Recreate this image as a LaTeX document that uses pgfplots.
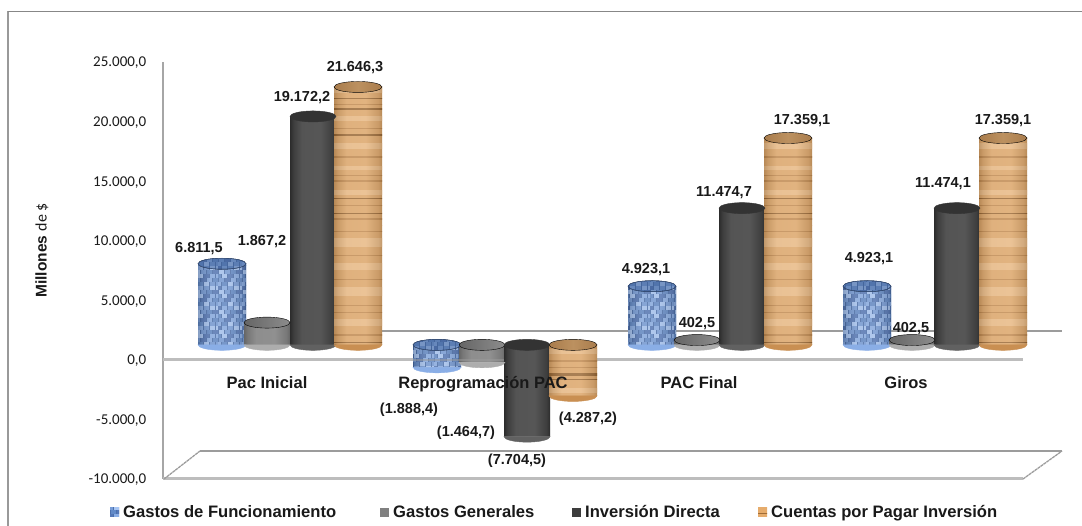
\documentclass[border=0pt]{standalone}
\usepackage{fontspec}
\usepackage{pgfplots}
\pgfplotsset{compat=1.18}
\usepackage{pgfplotstable}
\usetikzlibrary{patterns}
\setmainfont{Liberation Sans}
\newfontfamily\carl{Carlito}

\definecolor{wbase}{HTML}{E6AC6C}
\definecolor{wdark}{HTML}{A06C36}
\definecolor{wmid}{HTML}{C98F52}
\definecolor{wlight}{HTML}{F2C088}
\definecolor{wcap}{HTML}{A97C4C}
\definecolor{wcapb}{HTML}{BC9160}
\definecolor{bA}{HTML}{4C70AC}
\definecolor{bB}{HTML}{628AC8}
\definecolor{bC}{HTML}{8AAEE6}
\definecolor{bD}{HTML}{5578B8}
\definecolor{bE}{HTML}{A8C6F4}
\definecolor{bF}{HTML}{769CD8}
\definecolor{lineA}{HTML}{BDBDBD}
\definecolor{lineB}{HTML}{9C9C9C}

% Wood grain: horizontal bands of irregular height
\pgfdeclarepatterninherentlycolored{wood}{\pgfpointorigin}{\pgfqpoint{64.5pt}{300.5pt}}{\pgfqpoint{64pt}{300pt}}{%
  \pgfsetfillcolor{wbase}\pgfpathrectangle{\pgfpointorigin}{\pgfqpoint{64.5pt}{300.5pt}}\pgfusepath{fill}%
  \foreach \y/\h/\c in {6/2/wmid,12/1/wdark,20/1/wmid,27/1/wdark,31/5/wlight,44/2/wmid,50/1/wmid,56/4/wlight,
    68/2/wmid,77/6/wlight,90/2/wdark,97/1/wmid,105/5/wlight,116/2/wdark,121/1/wmid,127/1/wdark,133/5/wlight,
    146/1/wdark,150/3/wdark,158/1/wmid,164/2/wmid,172/5/wlight,183/1/wdark,190/2/wmid,200/7/wlight,
    213/1/wmid,220/1/wmid,230/9/wlight,246/1/wmid,256/7/wlight,270/1/wmid,279/9/wlight,294/1/wmid}{%
    \pgfsetfillcolor{\c}\pgfpathrectangle{\pgfqpoint{0pt}{\y pt}}{\pgfqpoint{64.5pt}{\h pt}}\pgfusepath{fill}%
  }%
}

% Woven blue surface: offset rows of small bricks
\pgfdeclarepatterninherentlycolored{mosaic}{\pgfpointorigin}{\pgfqpoint{24.5pt}{20.5pt}}{\pgfqpoint{24pt}{20pt}}{%
  \pgfsetfillcolor{bA}\pgfpathrectangle{\pgfpointorigin}{\pgfqpoint{24.5pt}{20.5pt}}\pgfusepath{fill}%
  \foreach \r/\off/\a/\b/\cc/\d in {0/0/bC/bB/bE/bF,1/3/bF/bD/bC/bB,2/0/bB/bE/bD/bC,3/3/bE/bF/bB/bD,4/0/bD/bC/bF/bE}{%
    \foreach \x/\c in {0/\a,6/\b,12/\cc,18/\d}{%
      \pgfmathsetlengthmacro\xx{\x+\off}%
      \pgfmathsetlengthmacro\yy{\r*4+0.4}%
      \pgfsetfillcolor{\c}\pgfpathrectangle{\pgfqpoint{\xx}{\yy}}{\pgfqpoint{5.4pt}{3.4pt}}\pgfusepath{fill}%
    }%
    \pgfmathsetlengthmacro\yy{\r*4+0.4}%
    \pgfsetfillcolor{\d}\pgfpathrectangle{\pgfqpoint{-3pt}{\yy}}{\pgfqpoint{5.4pt}{3.4pt}}\pgfusepath{fill}%
  }%
}

% Side lighting laid over each cylinder
\pgfdeclarehorizontalshading{cylover}{100bp}{color(0bp)=(black); color(25bp)=(black); color(29bp)=(black!65);
  color(38bp)=(white!78!black); color(58bp)=(white!82!black); color(71bp)=(black!65); color(75bp)=(black); color(100bp)=(black)}
\tikzset{cyl light/.style={shading=cylover,fill opacity=0.2}}

% Lower rim and upper cap of a cylinder
\newcommand{\rimpath}[1]{(-#1pt,0pt) arc[start angle=180,end angle=360,x radius=#1pt,y radius=5.5pt] -- cycle}
\pgfdeclareplotmark{endwood}{\fill[wmid] \rimpath{24};}
\pgfdeclareplotmark{endblue}{\fill[bC] \rimpath{24};}
\pgfdeclareplotmark{endgray}{\fill[white!68!black] \rimpath{23};}
\pgfdeclareplotmark{enddark}{\fill[white!38!black] \rimpath{23};}
\pgfdeclareplotmark{capwood}{\shade[left color=wcap,right color=wcap,middle color=wcapb] (0pt,0pt) ellipse (24pt and 5.5pt);}
\pgfdeclareplotmark{capblue}{\fill[pattern=mosaic] (0pt,0pt) ellipse (24pt and 5.5pt);\fill[bA!80!black,fill opacity=0.45] (0pt,0pt) ellipse (24pt and 5.5pt);}
\pgfdeclareplotmark{capgray}{\shade[left color=white!40!black,right color=white!55!black] (0pt,0pt) ellipse (23pt and 5.5pt);}
\pgfdeclareplotmark{capdark}{\fill[white!20!black] (0pt,0pt) ellipse (23pt and 5.5pt);}

\pgfplotstableread{
x v
222 6811.5
437 -1888.4
652 4923.1
867 4923.1
}\funcionamiento
\pgfplotstableread{
x v
267 1867.2
482 -1464.7
697 402.5
912 402.5
}\generales
\pgfplotstableread{
x v
313 19172.2
527 -7704.5
742 11474.7
957 11474.1
}\inversion
\pgfplotstableread{
x v
358 21646.3
573 -4287.2
788 17359.1
1003 17359.1
}\cuentas

% One cylinder's lighting at a time, so the gradient spans a single bar
\newcommand{\lightbar}[4]{%
  \addplot[ybar,bar shift=0pt,bar width=#2,draw=none,cyl light,yshift=15pt,
    skip coords between index={0}{#3},skip coords between index={#4}{4}] table[x=x,y=v] {#1};
}
\newcommand{\cylinders}[5]{% table, rim mark, cap mark, bar width, body style
  \addplot[only marks,mark=#2,yshift=15pt] table[x=x,y expr={min(\thisrow{v},0)}] {#1};
  \addplot[ybar,bar shift=0pt,bar width=#4,draw=none,#5,yshift=15pt] table[x=x,y=v] {#1};
  \lightbar{#1}{#4}{0}{1}\lightbar{#1}{#4}{1}{2}\lightbar{#1}{#4}{2}{3}\lightbar{#1}{#4}{3}{4}
  \addplot[only marks,mark=#3,yshift=15pt] table[x=x,y expr={max(\thisrow{v},0)}] {#1};
}

\begin{document}
\begin{tikzpicture}
\useasboundingbox (0pt,0pt) rectangle (1082pt,526pt);

\begin{axis}[
  at={(163pt,47pt)},anchor=south west,
  scale only axis,width=860pt,height=417pt,
  xmin=163,xmax=1023,ymin=-10000,ymax=25000,
  clip=false,
  axis x line=none,
  axis y line=left,
  y axis line style={-,draw=white!65!black,line width=1.5pt},
  ytick={-10000,-5000,0,5000,10000,15000,20000,25000},
  ytick style={draw=none},
  scaled y ticks=false,
  yticklabel style={font=\carl\fontsize{15}{15}\selectfont,xshift=-11pt,yshift=-1pt,text=black!90,
    /pgf/number format/.cd,fixed,fixed zerofill,precision=1,1000 sep={.},dec sep={,},assume math mode=true},
]
% Floor and zero plane of the chart box
\addplot[lineB,line width=1.6pt,forget plot] coordinates {(200,-7650) (1062,-7650)};
\addplot[lineA,line width=3pt,forget plot] coordinates {(163,-10000) (1023,-10000)};
\addplot[lineB,line width=1.3pt,dash pattern=on 3pt off 0.6pt,forget plot] coordinates {(164,-10000) (200,-7650)};
\addplot[lineB,line width=1.3pt,dash pattern=on 3pt off 0.6pt,forget plot] coordinates {(1023,-10000) (1062,-7650)};
\addplot[lineB,line width=1.6pt,forget plot] coordinates {(200,2400) (1062,2400)};
\addplot[lineA,line width=3pt,forget plot] coordinates {(163,0) (1023,0)};

\cylinders{\funcionamiento}{endblue}{capblue}{48pt}{pattern=mosaic}
\cylinders{\generales}{endgray}{capgray}{46pt}{fill=white!50!black}

% Zero plane seen through the two short cylinders
\addplot[lineB,line width=2.5pt,opacity=0.5,forget plot] coordinates {(413,0) (505,0)};

\cylinders{\inversion}{enddark}{capdark}{46pt}{fill=white!22!black}
\cylinders{\cuentas}{endwood}{capwood}{48pt}{pattern=wood}
\end{axis}

\begin{scope}[x=1pt,y=-1pt,yshift=526pt]
\draw[line width=1.2pt,white!60!black] (8,526) -- (8,11.5);
\draw[line width=1pt,white!53!black] (8,11.5) -- (1082,11.5);

% Value labels
\tikzset{val/.style={font=\bfseries\fontsize{14.5}{15}\selectfont,inner sep=0pt,text=black!90,text height=10.5pt,text depth=0pt},
  cat/.style={font=\bfseries\fontsize{16.5}{17}\selectfont,inner sep=0pt,text=black!90,anchor=base}}
\node[val] at (199,247) {6.811,5};
\node[val] at (262,240) {1.867,2};
\node[val] at (302,96) {19.172,2};
\node[val] at (355,66) {21.646,3};
\node[val] at (409,408) {(1.888,4)};
\node[val] at (466,431) {(1.464,7)};
\node[val] at (517,459) {(7.704,5)};
\node[val] at (588,417) {(4.287,2)};
\node[val] at (646,268) {4.923,1};
\node[val] at (697,322) {402,5};
\node[val] at (724,191) {11.474,7};
\node[val] at (802,119) {17.359,1};
\node[val] at (869,257) {4.923,1};
\node[val] at (911,327) {402,5};
\node[val] at (943,182) {11.474,1};
\node[val] at (1003,119) {17.359,1};

% Category names
\node[cat] at (267,389) {Pac Inicial};
\node[cat] at (483,389) {Reprogramación PAC};
\node[cat] at (699,389) {PAC Final};
\node[cat] at (906,389) {Giros};

% Vertical title
\node[rotate=90,anchor=east,inner sep=0pt,text=black!90] at (42,203)
  {\bfseries\fontsize{15.5}{16}\selectfont Millones\ \mdseries\carl\fontsize{16}{16}\selectfont de \$};

% Key
\tikzset{key/.style={font=\bfseries\fontsize{16.6}{17}\selectfont,inner sep=0pt,anchor=base west,text=black!90}}
\fill[pattern=mosaic] (110,508) rectangle (119,517);
\node[key] at (123,517.5) {Gastos de Funcionamiento};
\fill[white!50!black] (380,508) rectangle (389,517);
\node[key] at (393,517.5) {Gastos Generales};
\fill[white!24!black] (572,508) rectangle (581,517);
\node[key] at (585,517.5) {Inversión Directa};
\fill[pattern=wood] (758,508) rectangle (767,517);
\node[key] at (771,517.5) {Cuentas por Pagar Inversión};
\end{scope}
\end{tikzpicture}
\end{document}
